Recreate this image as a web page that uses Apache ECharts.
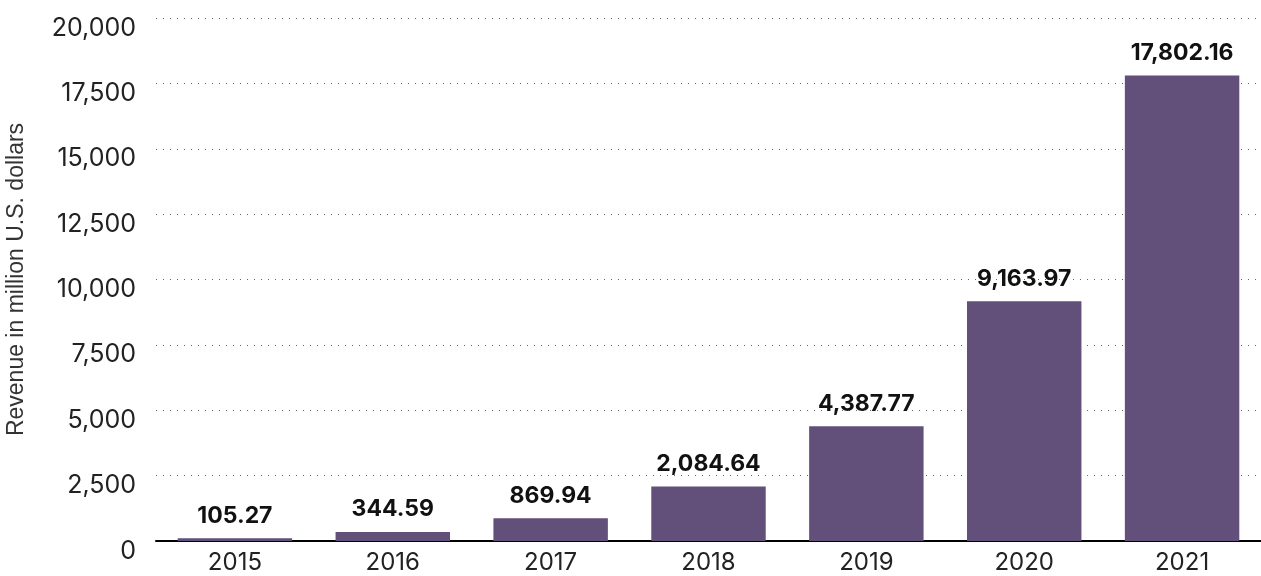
<!DOCTYPE html>
<html><head><meta charset="utf-8">
<script src="https://cdn.jsdelivr.net/npm/echarts@6/dist/echarts.min.js"></script>
<style>html,body{margin:0;padding:0;background:#fff}#c{width:1261px;height:576px}</style>
</head><body><div id="c"></div>
<script>
const categories = ['2015','2016','2017','2018','2019','2020','2021'];
const revenue = [105.27, 344.59, 869.94, 2084.64, 4387.77, 9163.97, 17802.16];
const axisName = 'Revenue in million U.S. dollars';

const fmt = v => v.toLocaleString('en-US', {minimumFractionDigits: 2, maximumFractionDigits: 2});
const chart = echarts.init(document.getElementById('c'));
chart.setOption({
  animation: false,
  textStyle: {fontFamily: 'Inter'},
  grid: {left: 156, right: 0, top: 18, bottom: 35, containLabel: false, outerBoundsMode: 'none'},
  xAxis: {
    type: 'category', data: categories,
    axisLine: {lineStyle: {color: '#000', width: 2}},
    axisTick: {show: false},
    axisLabel: {color: '#222', fontSize: 24, margin: 10, fontFamily: 'Inter'}
  },
  yAxis: {
    type: 'value', min: 0, max: 20000, interval: 2500,
    name: axisName, nameLocation: 'middle', nameGap: 128,
    nameTextStyle: {color: '#333', fontSize: 23, fontFamily: 'Liberation Sans'},
    axisLine: {show: false}, axisTick: {show: false},
    axisLabel: {color: '#222', fontSize: 25, margin: 20, fontFamily: 'Inter',
      verticalAlign: 'top', lineHeight: 20,
      formatter: v => v.toLocaleString('en-US')},
    splitLine: {lineStyle: {color: '#666', type: [1, 6], width: 1}}
  },
  series: [{
    type: 'bar', data: revenue, barWidth: '72.5%',
    itemStyle: {color: '#624f7a'},
    label: {show: true, position: 'top', distance: 11, color: '#111', fontSize: 23,
      fontWeight: 'bold', fontFamily: 'Inter', formatter: p => fmt(p.value)}
  }]
});
</script></body></html>
